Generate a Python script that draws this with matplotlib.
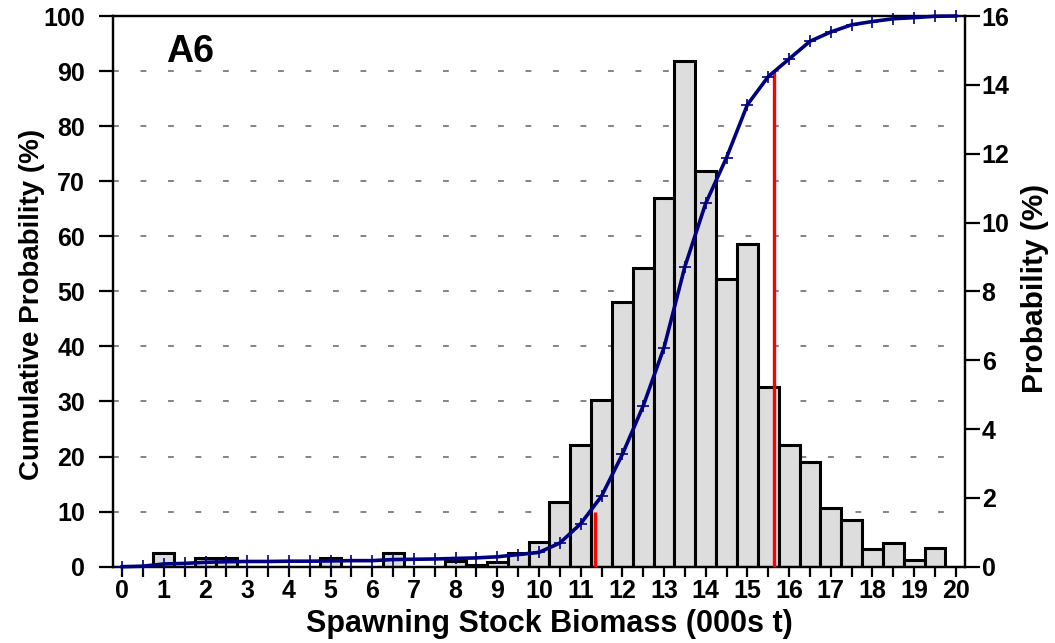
import matplotlib
matplotlib.use("Agg")
import matplotlib.pyplot as plt
import numpy as np
from matplotlib.ticker import MultipleLocator, FixedLocator

plt.rcParams['font.family'] = ['Liberation Sans', 'DejaVu Sans']
plt.rcParams['font.weight'] = 'bold'

# ---- data ----
bin_centres = [0, 0.5, 1, 1.5, 2, 2.5, 3, 3.5, 4, 4.5, 5, 5.5, 6, 6.5, 7, 7.5, 8, 8.5, 9, 9.5,
               10, 10.5, 11, 11.5, 12, 12.5, 13, 13.5, 14, 14.5, 15, 15.5, 16, 16.5, 17, 17.5,
               18, 18.5, 19, 19.5, 20]
probability = [0, 0, 0.41, 0, 0.24, 0.24, 0, 0, 0, 0, 0.24, 0, 0, 0.39, 0, 0, 0.17, 0.05, 0.15, 0.41,
               0.72, 1.87, 3.53, 4.85, 7.69, 8.69, 10.7, 14.7, 11.51, 8.35, 9.37, 5.22, 3.53, 3.05, 1.70, 1.37,
               0.52, 0.69, 0.20, 0.54, 0]
cumulative = [0, 0.1, 0.5, 0.6, 0.8, 0.9, 0.95, 0.95, 1.0, 1.0, 1.05, 1.1, 1.1, 1.3, 1.35, 1.4, 1.5, 1.6, 1.8, 2.2,
              2.6, 4.3, 7.8, 12.8, 20.4, 29.2, 39.8, 54.5, 66.0, 74.3, 83.9, 89.0, 92.2, 95.4, 97.1, 98.4,
              99.0, 99.5, 99.7, 99.95, 100]
percentile_x = [11.35, 15.64]
percentile_level = [10, 90]
panel_label = "A6"
x_label = "Spawning Stock Biomass (000s t)"
left_label = "Cumulative Probability (%)"
right_label = "Probability (%)"
left_ticks = list(range(0, 101, 10))
right_ticks = list(range(0, 17, 2))
x_ticks = list(range(0, 21))

# ---- figure ----
fig = plt.figure(figsize=(10.55, 6.43), dpi=100)
ax = fig.add_axes([113/1055, 1 - 566.7/643, 852/1055, 550.7/643])
axr = ax.twinx()
ax.set_zorder(2)
axr.set_zorder(1)
ax.patch.set_visible(False)

ax.set_xlim(-0.22, 20.22)
ax.set_ylim(0, 100)
axr.set_ylim(0, 16)

# gridlines (behind bars) in the right axes, at the left-axis tick levels
for v in left_ticks[1:-1]:
    axr.axhline(v * 16 / 100, color='#707070', lw=1.2, ls=(0, (3.5, 13)), zorder=0)

axr.bar(bin_centres, probability, width=0.5, color='#dddddd', edgecolor='black',
        linewidth=2.2, zorder=2)

ax.vlines(percentile_x, 0, percentile_level, colors='#ff0000', lw=2.4, zorder=3)
ax.plot(bin_centres, cumulative, color='#000080', lw=2.6, marker='+', ms=9, mew=1.2,
        zorder=4, clip_on=False)

ax.text(0.062, 0.968, panel_label, transform=ax.transAxes, fontsize=27, fontweight='bold',
        va='top', ha='left')

# ticks
ax.xaxis.set_major_locator(FixedLocator(x_ticks))
ax.xaxis.set_minor_locator(MultipleLocator(0.5))
ax.set_yticks(left_ticks)
axr.set_yticks(right_ticks)
for a in (ax, axr):
    a.tick_params(axis='both', which='major', direction='out', width=1.6, labelsize=18)
    for s in a.spines.values():
        s.set_linewidth(1.6)
ax.tick_params(axis='x', which='both', length=7, width=1.6, pad=2)
ax.tick_params(axis='y', which='major', length=10, pad=10)
axr.tick_params(axis='y', which='major', length=11, pad=1)
for lab in ax.get_xticklabels() + ax.get_yticklabels() + axr.get_yticklabels():
    lab.set_fontweight('bold')

ax.set_xlabel(x_label, fontsize=22, fontweight='bold')
ax.set_ylabel(left_label, fontsize=20, fontweight='bold')
axr.set_ylabel(right_label, fontsize=21.5, fontweight='bold')
ax.xaxis.set_label_coords(0.512, -0.077)
ax.yaxis.set_label_coords(-0.08, 0.477)
axr.yaxis.set_label_coords(1.066, 0.506)

fig.savefig("out.png", dpi=100)
